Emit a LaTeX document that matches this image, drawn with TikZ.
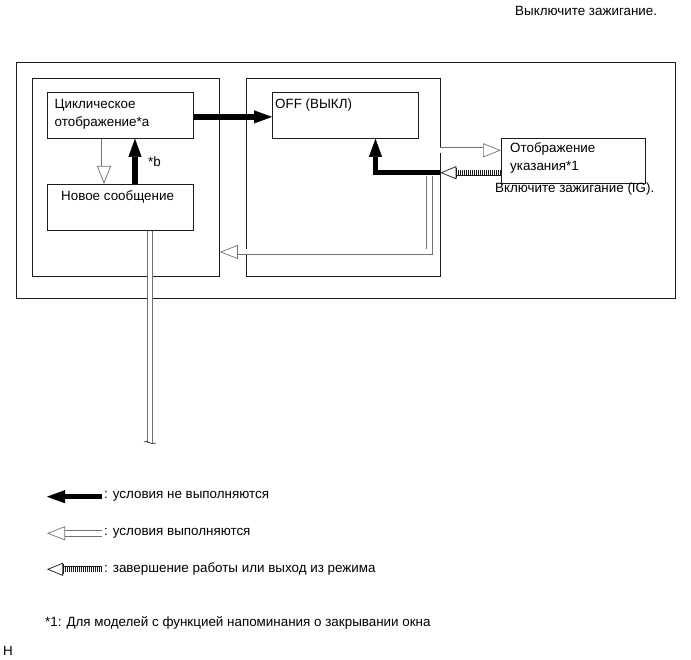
\documentclass[tikz,border=0pt]{standalone}
\usepackage{fontspec}
\setmainfont{Liberation Sans}
\usetikzlibrary{arrows.meta, positioning, calc}
\definecolor{edge}{HTML}{1A1A1A}
\definecolor{shaft}{HTML}{707070}

\begin{document}
\begin{tikzpicture}[
    x=1pt, y=-1pt,
    font=\fontsize{13.4}{17.8}\selectfont,
    box/.style={rectangle, draw=edge, line width=0.8pt, anchor=north west, inner sep=0pt},
    lbl/.style={anchor=base west, inner sep=0pt, align=left},
    nogo/.style={draw=black, line width=5.5pt, -{Triangle[length=18pt, width=13pt, line width'=0.4pt]}},
    go/.style={draw=shaft, line width=0.7pt, double=white, double distance=5pt,
               -{Triangle[length=18pt, width=14pt, fill=white, line width'=0.7pt]}},
    quit/.style={draw=edge, line width=4.6pt, dash pattern=on 0.7pt off 1.3pt,
               -{Bar[width=10pt, line width'=0.7pt] Triangle[length=16pt, width=13pt, fill=white, line width'=0.7pt]},
               preaction={draw=edge, solid, line width=6.2pt, -, shorten >=16pt},
               preaction={draw=white, solid, line width=4.8pt, -, shorten >=16pt}},
    cutline/.style={draw=shaft, line width=0.7pt, double=white, double distance=4.5pt}
]
\useasboundingbox (0,0) rectangle (691,660);

\node[box, minimum width=659pt, minimum height=236pt] (outer) at (16,62) {};
\node[box, minimum width=187pt, minimum height=198pt] (leftpanel) at (32,78) {};
\node[box, minimum width=193.5pt, minimum height=198pt] (rightpanel) at (246,78) {};

\node[box, minimum width=146pt, minimum height=46pt] (cyc) at (47,92) {};
\node[box, minimum width=146pt, minimum height=46pt] (newmsg) at (47,184) {};
\node[box, minimum width=146pt, minimum height=46pt] (off) at (272,92) {};
\node[box, minimum width=144pt, minimum height=45pt] (hint) at (501,138) {};

% multi-line labels sit on their last baseline
\node[lbl] (cyctext) at (54.5,126.8) {Циклическое\\отображение*a};
\node[lbl] (newtext) at (61,201) {Новое сообщение};
\node[lbl] (offtext) at (275,108.5) {OFF (ВЫКЛ)};
\node[lbl] (hinttext) at (510,170.8) {Отображение\\указания*1};
\node[lbl] (igon) at (495,193) {Включите зажигание (IG).};
\node[lbl] (igoff) at (515,16) {Выключите зажигание.};
\node[lbl] (starb) at (148,167) {*b};

\draw[nogo] ($(cyc.east)+(0,1.5)$) -- ($(off.west)+(0,1.5)$);
\draw[go] ($(cyc.south west)+(57,0)$) -- ($(newmsg.north west)+(57,0)$);
\draw[nogo] ($(newmsg.north west)+(88,0)$) -- ($(cyc.south west)+(88,0)$);
\draw[go] ($(rightpanel.north east)+(0,72.3)$) -- ($(hint.north west)+(0,12.3)$);
\draw[quit] ($(hint.north west)+(0,34.7)$) -- ($(rightpanel.north east)+(0,94.7)$);
\draw[nogo] ($(rightpanel.north east)+(0,94.7)$) -| ($(off.south west)+(103.5,0)$);
\draw[go] ($(rightpanel.north east)+(-11,98)$) |- ($(leftpanel.north east)+(0,174)$);

\coordinate (cut) at (150,443);
\draw[cutline] (cut |- newmsg.south) -- (cut);
\draw[edge, line width=0.6pt] ($(cut)+(-6,-1)$) .. controls ($(cut)+(-3,-4)$) and ($(cut)+(1,3)$) .. ($(cut)+(6,0)$);

% legend
\coordinate (leg1) at (102,496.7);
\coordinate (leg2) at (102,533.3);
\coordinate (leg3) at (102,569.3);
\draw[nogo] (leg1) -- ++(-55,0);
\draw[go] (leg2) -- ++(-55,0);
\draw[quit] (leg3) -- ++(-55,0);
\node[lbl] (legtext1) at (104,498.5) {: условия не выполняются};
\node[lbl] (legtext2) at (104,535) {: условия выполняются};
\node[lbl] (legtext3) at (104,572) {: завершение работы или выход из режима};

\node[lbl] (note) at (45,626.5) {*1: Для моделей с функцией напоминания о закрывании окна};
\node[lbl] (mark) at (3,655) {H};
\end{tikzpicture}
\end{document}
